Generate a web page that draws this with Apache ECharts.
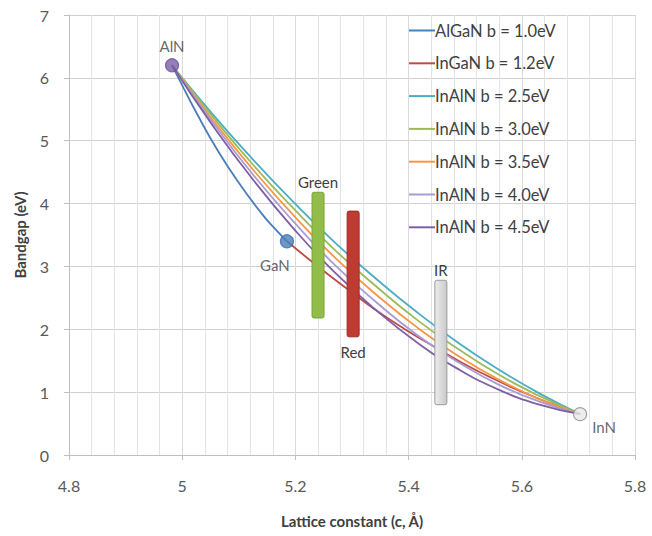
<!DOCTYPE html>
<html>
<head>
<meta charset="utf-8">
<script src="https://cdn.jsdelivr.net/npm/echarts@6/dist/echarts.min.js"></script>
<style>
  html, body { margin: 0; padding: 0; background: #fff; }
  #chart { width: 652px; height: 536px; }
</style>
</head>
<body>
<div id="chart"></div>
<script>
// lattice constant c (Å) / bandgap (eV)
const algaNC = [4.982, 5.003, 5.023, 5.063, 5.104, 5.144, 5.165, 5.185];
const algaNEg = [6.2, 5.83, 5.48, 4.84, 4.28, 3.80, 3.59, 3.4];

const ingaNC = [5.185, 5.237, 5.289, 5.340, 5.392, 5.444, 5.496, 5.548, 5.599, 5.651, 5.703];
const ingaNEg = [3.4, 3.02, 2.66, 2.32, 2.01, 1.73, 1.46, 1.22, 1.01, 0.82, 0.65];

const inalNC = [4.982, 5.054, 5.126, 5.198, 5.270, 5.343, 5.415, 5.487, 5.559, 5.631, 5.703];
const inalN25 = [6.2, 5.42, 4.69, 4.01, 3.38, 2.80, 2.27, 1.79, 1.36, 0.98, 0.65];
const inalN30 = [6.2, 5.38, 4.61, 3.91, 3.26, 2.68, 2.15, 1.69, 1.28, 0.94, 0.65];
const inalN35 = [6.2, 5.33, 4.53, 3.80, 3.14, 2.55, 2.03, 1.58, 1.20, 0.89, 0.65];
const inalN40 = [6.2, 5.29, 4.45, 3.70, 3.02, 2.43, 1.91, 1.48, 1.12, 0.85, 0.65];
const inalN45 = [6.2, 5.24, 4.37, 3.59, 2.90, 2.30, 1.79, 1.37, 1.04, 0.80, 0.65];

const seriesNames = [
  'AlGaN b = 1.0eV', 'InGaN b = 1.2eV', 'InAlN b = 2.5eV', 'InAlN b = 3.0eV',
  'InAlN b = 3.5eV', 'InAlN b = 4.0eV', 'InAlN b = 4.5eV'
];
const seriesColors = ['#4A7EBB', '#BE4B48', '#4BACC6', '#9BBB59', '#F79646', '#A99BD3', '#7E5FA5'];

// binary end points
const pointNames = ['AlN', 'GaN', 'InN'];
const pointC = [4.982, 5.185, 5.703];
const pointEg = [6.2, 3.4, 0.65];

// emission bands
const bandNames = ['Green', 'Red', 'IR'];
const bandC = [5.24, 5.302, 5.457];
const bandLow = [2.18, 1.88, 0.8];
const bandHigh = [4.18, 3.88, 2.78];

const zip = (xs, ys) => xs.map((x, i) => [x, ys[i]]);
const curveData = [
  zip(algaNC, algaNEg),
  zip(ingaNC, ingaNEg),
  zip(inalNC, inalN25),
  zip(inalNC, inalN30),
  zip(inalNC, inalN35),
  zip(inalNC, inalN40),
  zip(inalNC, inalN45)
];

const font = 'Lato, "Open Sans", sans-serif';

const curveSeries = seriesNames.map((name, i) => ({
  name: name,
  type: 'line',
  data: curveData[i],
  smooth: true,
  symbol: 'none',
  lineStyle: { color: seriesColors[i], width: 1.8 },
  itemStyle: { color: seriesColors[i] },
  z: 3
}));

const bandFills = [
  '#92BD4A',
  '#BE3A33',
  new echarts.graphic.LinearGradient(0, 0, 1, 0, [
    { offset: 0, color: '#EDEDED' }, { offset: 1, color: '#C9C9C9' }
  ])
];
const bandStrokes = ['#7AA23A', '#9C2B25', '#9A9A9A'];

const bandSeries = {
  type: 'custom',
  data: bandNames.map((n, i) => [bandC[i], bandLow[i], bandHigh[i]]),
  z: 4,
  renderItem: function (params, api) {
    const i = params.dataIndex;
    const top = api.coord([api.value(0), api.value(2)]);
    const bot = api.coord([api.value(0), api.value(1)]);
    const below = bandNames[i] === 'Red';
    return {
      type: 'group',
      children: [
        {
          type: 'rect',
          shape: { x: top[0] - 6, y: top[1], width: 12, height: bot[1] - top[1], r: 2 },
          style: { fill: bandFills[i], stroke: bandStrokes[i], lineWidth: 1 }
        },
        {
          type: 'text',
          x: top[0],
          y: below ? bot[1] + 15 : top[1] - 10,
          style: {
            text: bandNames[i],
            fill: '#404040',
            font: '15px ' + font,
            align: 'center',
            verticalAlign: 'middle'
          }
        }
      ]
    };
  }
};

const labelSpecs = [
  { position: 'top', distance: 5, offset: [0, 0] },
  { position: 'bottom', distance: 5, offset: [-12, 4] },
  { position: 'right', distance: 5, offset: [0, 13] }
];
const pointFills = ['#7B5EA7', '#4A7EBB', '#E8E8E8'];
const pointStrokes = ['#6A4F95', '#3B6AA6', '#8C8C8C'];

const pointSeries = {
  type: 'scatter',
  symbolSize: 13,
  z: 5,
  data: pointNames.map((n, i) => ({
    name: n,
    value: [pointC[i], pointEg[i]],
    itemStyle: { color: pointFills[i], borderColor: pointStrokes[i], borderWidth: 1.2 },
    label: Object.assign({
      show: true,
      formatter: n,
      color: '#404040',
      fontSize: 15,
      fontFamily: font
    }, labelSpecs[i])
  }))
};

const chart = echarts.init(document.getElementById('chart'), null, { renderer: 'svg' });
chart.setOption({
  animation: false,
  backgroundColor: '#fff',
  grid: { left: 69, right: 17, top: 15, bottom: 81 },
  legend: {
    data: seriesNames,
    orient: 'vertical',
    left: 404,
    top: 17,
    icon: 'rect',
    itemWidth: 26,
    itemHeight: 2,
    itemGap: 15.8,
    textStyle: { color: '#404040', fontSize: 16.5, fontFamily: font, padding: [0, 0, 0, -5] }
  },
  xAxis: {
    type: 'value',
    min: 4.8,
    max: 5.8,
    interval: 0.2,
    name: 'Lattice constant (c, Å)',
    nameLocation: 'middle',
    nameGap: 58,
    nameTextStyle: { color: '#404040', fontSize: 15, fontWeight: 'bold', fontFamily: font },
    axisLine: { show: true, lineStyle: { color: '#BFBFBF' } },
    axisTick: { show: true, length: 5, lineStyle: { color: '#BFBFBF' } },
    axisLabel: { color: '#595959', fontSize: 16, fontFamily: font, margin: 22 },
    splitLine: { show: true, lineStyle: { color: '#D9D9D9' } },
    minorTick: { show: false, splitNumber: 5 },
    minorSplitLine: { show: true, lineStyle: { color: '#E3E3E3' } }
  },
  yAxis: {
    type: 'value',
    min: 0,
    max: 7,
    interval: 1,
    name: 'Bandgap (eV)',
    nameLocation: 'middle',
    nameGap: 42,
    nameTextStyle: { color: '#404040', fontSize: 15, fontWeight: 'bold', fontFamily: font },
    axisLine: { show: true, lineStyle: { color: '#BFBFBF' } },
    axisTick: { show: true, length: 5, lineStyle: { color: '#BFBFBF' } },
    axisLabel: { color: '#595959', fontSize: 16, fontFamily: font, margin: 20 },
    splitLine: { show: true, lineStyle: { color: '#D0D0D0' } }
  },
  series: curveSeries.concat([bandSeries, pointSeries])
});
</script>
</body>
</html>
